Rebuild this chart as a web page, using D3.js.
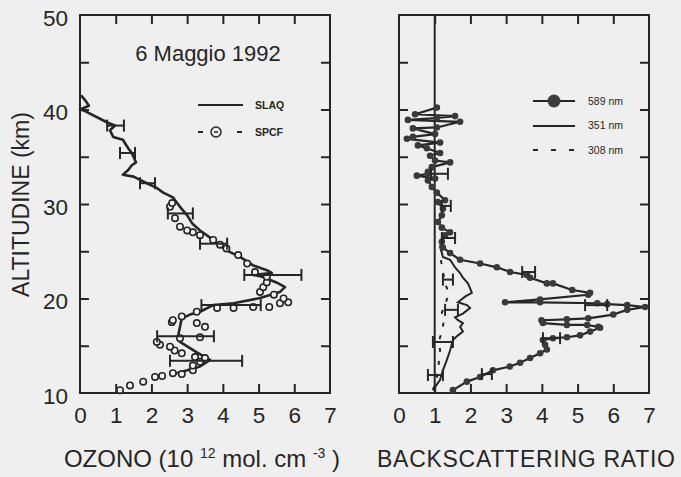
<!DOCTYPE html>
<html><head><meta charset="utf-8">
<script src="https://cdn.jsdelivr.net/npm/d3@7"></script>
<style>
html,body{margin:0;padding:0;background:#efefef;}
svg{display:block;font-family:"Liberation Sans",Arial,sans-serif;}
</style></head>
<body>
<svg id="c" width="681" height="477"></svg>
<script>
// ---------- data ----------
const altTicks = [10, 20, 30, 40, 50];
const xTicks = [0, 1, 2, 3, 4, 5, 6, 7];
// SLAQ ozone profile [altitude km, ozone 1e12 mol/cm3]
const slaq = [[41.5,0.03],[41.0,0.14],[40.4,0.25],[40.0,0.0],[39.9,0.1],[38.6,0.78],[38.3,0.98],[37.8,0.84],[37.1,0.93],[36.8,1.2],[35.9,1.35],[35.4,1.45],[34.4,1.57],[34.1,1.45],[33.6,1.35],[33.1,1.2],[32.9,1.5],[32.2,1.87],[31.7,2.15],[31.2,2.33],[30.7,2.6],[29.7,2.8],[28.8,3.0],[27.9,3.15],[27.2,3.36],[26.2,3.73],[25.1,4.1],[24.4,4.48],[23.5,4.85],[23.0,5.23],[22.7,5.37],[22.5,4.85],[22.3,5.1],[21.7,5.5],[21.2,5.74],[20.7,5.6],[20.05,5.04],[19.5,4.3],[19.3,3.73],[18.6,3.36],[18.3,3.08],[17.9,2.85],[17.0,2.8],[15.9,2.74],[15.4,2.8],[14.3,3.27],[13.5,3.64],[12.8,3.36],[12.4,3.0],[12.1,2.7]];
// SPCF ozone-sonde points
const spcf = [[10.3,1.12],[10.8,1.4],[11.2,1.77],[11.7,2.1],[11.8,2.3],[12.1,2.6],[12.0,2.85],[12.4,3.16],[12.9,3.16],[13.3,3.36],[13.7,3.5],[13.8,3.22],[14.2,2.85],[14.5,2.65],[14.9,2.52],[15.1,2.24],[15.4,2.15],[15.8,2.8],[15.9,3.36],[17.0,3.5],[17.4,3.27],[17.5,2.57],[17.7,2.6],[18.1,2.85],[18.6,3.27],[19.0,3.84],[19.0,4.3],[19.1,4.85],[19.1,5.3],[19.5,5.6],[19.6,5.83],[20.0,5.7],[20.4,5.43],[20.7,5.04],[21.2,5.13],[21.7,5.23],[22.3,5.23],[22.8,4.9],[23.7,4.68],[24.6,4.43],[25.3,4.1],[25.7,3.92],[26.2,3.73],[26.7,3.36],[27.0,3.16],[27.2,3.0],[27.6,2.8],[28.5,2.66],[29.7,2.52],[30.1,2.58]];
// ozone error bars [altitude, low, high]
const ozoneErr = [[38.3,0.76,1.23],[35.4,1.12,1.54],[32.2,1.68,2.1],[29.0,2.46,3.16],[25.8,3.36,4.12],[22.5,4.6,6.2],[19.3,3.4,5.06],[16.0,2.16,3.75],[13.4,2.52,4.54]];
// backscattering ratio profiles [altitude, ratio]
const bsr589 = [[10.3,1.51],[11.2,1.9],[11.7,2.27],[12.4,2.63],[12.8,3.1],[13.2,3.39],[13.7,3.67],[14.2,3.95],[14.6,4.14],[15.1,4.09],[15.6,4.03],[15.8,4.31],[15.9,4.7],[16.1,5.07],[16.5,5.35],[16.9,5.63],[17.0,5.58],[17.2,5.27],[17.2,4.7],[17.4,4.03],[17.7,3.99],[17.8,4.7],[17.9,5.3],[18.3,6.0],[18.8,6.39],[19.1,6.89],[19.3,6.39],[19.4,5.83],[19.5,5.55],[19.6,3.95],[19.6,2.97],[19.9,3.95],[20.4,5.3],[20.6,5.35],[20.9,4.85],[21.6,4.31],[21.6,4.14],[22.2,3.67],[22.5,3.58],[22.8,3.11],[23.3,2.74],[23.7,2.27],[24.1,1.71],[24.8,1.43],[25.4,1.23],[26.0,1.2],[26.7,1.29],[27.0,1.43],[27.5,1.2],[28.1,1.09],[28.8,1.2],[29.5,1.23],[30.2,1.09],[30.4,1.29],[31.2,1.06],[31.8,0.92],[32.5,0.81],[32.7,1.01],[33.0,0.5],[33.2,0.81],[33.4,0.81],[33.9,0.92],[34.4,1.43],[34.6,1.01],[35.1,0.87],[35.4,1.15],[35.9,0.78],[36.2,0.53],[36.5,1.15],[36.9,0.22],[37.1,0.39],[37.4,1.01],[38.0,0.39],[38.1,1.06],[38.7,1.71],[38.9,0.25],[39.1,1.06],[39.3,1.57],[39.5,0.45],[40.2,1.06]];
const bsr351 = [[10.3,0.95],[11.4,1.15],[12.4,1.23],[13.5,1.34],[14.5,1.43],[15.6,1.51],[16.1,1.65],[16.5,1.79],[17.0,1.71],[17.4,1.79],[17.7,1.65],[18.0,1.57],[18.4,1.79],[19.0,1.99],[19.3,1.9],[19.6,1.65],[20.2,1.85],[20.6,2.04],[21.1,1.99],[21.6,1.93],[22.2,1.79],[22.7,1.71],[23.3,1.57],[24.1,1.43],[24.4,1.23],[24.8,1.2],[25.5,1.15],[26.0,1.2]];
const bsr308 = [[10.3,0.95],[11.5,1.05],[12.5,1.1],[13.5,1.12],[14.5,1.15],[15.5,1.12],[16.5,1.2],[17.5,1.25],[18.5,1.2],[19.5,1.3],[20.5,1.4],[21.5,1.3],[22.5,1.25],[23.5,1.2],[24.5,1.15],[25.0,1.2]];
const bsrErr = [[22.0,1.23,1.51],[18.8,1.29,1.65],[15.4,0.95,1.51],[11.9,0.81,1.23],[22.8,3.45,3.81],[19.3,5.21,5.83],[15.8,4.03,4.51],[12.0,2.32,2.6],[33.2,0.9,1.37],[29.8,1.2,1.45],[26.4,1.2,1.57]];
const legendLeft = ["SLAQ", "SPCF"];
const legendRight = ["589 nm", "351 nm", "308 nm"];

// ---------- drawing ----------
const svg = d3.select("#c");
const ink = "#262626";
const y = d3.scaleLinear().domain([10, 50]).range([393, 15]);
const xL = d3.scaleLinear().domain([0, 7]).range([80, 330]);
const xR = d3.scaleLinear().domain([0, 7]).range([399, 649]);
const minorAlt = [15, 20, 25, 30, 35, 40, 45];
const innerX = [1, 2, 3, 4, 5, 6];

function frame(x) {
  const g = svg.append("g");
  const [x0, x1] = x.range();
  const tl = 9;
  g.append("rect").attr("x", x0).attr("y", y(50)).attr("width", x1 - x0).attr("height", y(10) - y(50))
    .attr("fill", "none").attr("stroke", ink).attr("stroke-width", 2);
  const axL = d3.axisRight(y).tickValues(minorAlt).tickSize(tl).tickFormat("");
  const axR = d3.axisLeft(y).tickValues(minorAlt).tickSize(tl).tickFormat("");
  const axB = d3.axisTop(x).tickValues(innerX).tickSize(tl).tickFormat("");
  const axT = d3.axisBottom(x).tickValues(innerX).tickSize(tl).tickFormat("");
  [[axL, `translate(${x0},0)`], [axR, `translate(${x1},0)`], [axB, `translate(0,${y(10)})`], [axT, `translate(0,${y(50)})`]]
    .forEach(([a, t]) => {
      const s = g.append("g").attr("transform", t).call(a);
      s.select(".domain").remove();
      s.selectAll("line").attr("stroke", ink).attr("stroke-width", 2);
    });
  const lab = d3.axisBottom(x).tickValues(xTicks).tickSize(0).tickPadding(14).tickFormat(d3.format("d"));
  const s = g.append("g").attr("transform", `translate(0,${y(10)})`).call(lab);
  s.select(".domain").remove();
  s.selectAll("text").attr("font-size", 22.5).attr("fill", ink).attr("font-family", "Liberation Sans, Arial, sans-serif");
  return g;
}

frame(xL);
frame(xR);

const yl = svg.append("g").attr("transform", `translate(${xL(0)},0)`)
  .call(d3.axisLeft(y).tickValues(altTicks).tickSize(0).tickPadding(12));
yl.select(".domain").remove();
yl.selectAll("text").attr("font-size", 22.5).attr("fill", ink).attr("dy", "0.45em").attr("font-family", "Liberation Sans, Arial, sans-serif");

svg.append("text").attr("transform", `translate(29,${(107 + 302) / 2}) rotate(-90)`)
  .attr("text-anchor", "middle").attr("font-size", 23).attr("fill", ink).text("ALTITUDINE (km)");
const oz = svg.append("text").attr("x", 202).attr("y", 467).attr("text-anchor", "middle").attr("font-size", 24).attr("fill", ink);
oz.append("tspan").text("OZONO (10 ");
oz.append("tspan").attr("font-size", 14).attr("dy", -9).text("12");
oz.append("tspan").attr("dy", 9).text(" mol. cm ");
oz.append("tspan").attr("font-size", 14).attr("dy", -9).text("-3");
oz.append("tspan").attr("dy", 9).text(" )");
svg.append("text").attr("x", 526).attr("y", 467).attr("text-anchor", "middle").attr("font-size", 23)
  .attr("fill", ink).attr("textLength", 298).text("BACKSCATTERING RATIO");
svg.append("text").attr("x", 208).attr("y", 61).attr("text-anchor", "middle").attr("font-size", 22)
  .attr("fill", ink).text("6 Maggio 1992");

function errBars(data, x, cap) {
  const g = svg.append("g").attr("stroke", ink).attr("stroke-width", 2).attr("fill", "none");
  data.forEach(([a, lo, hi]) => {
    g.append("line").attr("x1", x(lo)).attr("x2", x(hi)).attr("y1", y(a)).attr("y2", y(a));
    [lo, hi].forEach(v => g.append("line").attr("x1", x(v)).attr("x2", x(v)).attr("y1", y(a) - cap).attr("y2", y(a) + cap));
  });
}

// ----- left panel -----
const lineL = d3.line().x(d => xL(d[1])).y(d => y(d[0]));
svg.append("path").datum(slaq).attr("d", lineL).attr("fill", "none").attr("stroke", ink).attr("stroke-width", 2.6).attr("stroke-linejoin", "round");
svg.append("g").selectAll("circle").data(spcf).join("circle")
  .attr("cx", d => xL(d[1])).attr("cy", d => y(d[0])).attr("r", 3.2)
  .attr("fill", "#f4f4f4").attr("stroke", ink).attr("stroke-width", 1.6);
errBars(ozoneErr, xL, 6);

const lg = svg.append("g").attr("fill", ink);
lg.append("line").attr("x1", 198).attr("x2", 243).attr("y1", 105).attr("y2", 105).attr("stroke", ink).attr("stroke-width", 2);
lg.append("line").attr("x1", 198).attr("x2", 203).attr("y1", 132).attr("y2", 132).attr("stroke", ink).attr("stroke-width", 2);
lg.append("line").attr("x1", 237).attr("x2", 242).attr("y1", 132).attr("y2", 132).attr("stroke", ink).attr("stroke-width", 2);
lg.append("circle").attr("cx", 216).attr("cy", 132).attr("r", 5).attr("fill", "none").attr("stroke", ink).attr("stroke-width", 1.5);
lg.append("line").attr("x1", 214).attr("x2", 218).attr("y1", 132).attr("y2", 132).attr("stroke", ink).attr("stroke-width", 1.5);
lg.selectAll("text.l").data(legendLeft).join("text").attr("class", "l")
  .attr("x", 255).attr("y", (d, i) => 105 + i * 27).attr("dy", "0.36em")
  .attr("font-size", 10.5).attr("font-weight", "bold").text(d => d);

// ----- right panel -----
svg.append("line").attr("x1", xR(1)).attr("x2", xR(1)).attr("y1", y(50)).attr("y2", y(10)).attr("stroke", ink).attr("stroke-width", 2);
const lineR = d3.line().x(d => xR(d[1])).y(d => y(d[0]));
svg.append("path").datum(bsr308).attr("d", lineR).attr("fill", "none").attr("stroke", ink).attr("stroke-width", 2).attr("stroke-dasharray", "4,9");
svg.append("path").datum(bsr351).attr("d", lineR).attr("fill", "none").attr("stroke", ink).attr("stroke-width", 2);
svg.append("path").datum(bsr589).attr("d", lineR).attr("fill", "none").attr("stroke", ink).attr("stroke-width", 2.2).attr("stroke-linejoin", "round");
svg.append("g").selectAll("circle").data(bsr589).join("circle")
  .attr("cx", d => xR(d[1])).attr("cy", d => y(d[0])).attr("r", 3.3).attr("fill", "#3a3a3a");
errBars(bsrErr, xR, 6);

const rg = svg.append("g").attr("fill", ink);
rg.append("line").attr("x1", 533).attr("x2", 575).attr("y1", 101).attr("y2", 101).attr("stroke", ink).attr("stroke-width", 2);
rg.append("circle").attr("cx", 554).attr("cy", 101).attr("r", 6.5).attr("fill", "#3d3d3d");
rg.append("line").attr("x1", 533).attr("x2", 575).attr("y1", 126).attr("y2", 126).attr("stroke", ink).attr("stroke-width", 2);
rg.append("line").attr("x1", 533).attr("x2", 575).attr("y1", 150).attr("y2", 150).attr("stroke", ink).attr("stroke-width", 2).attr("stroke-dasharray", "5,13");
rg.selectAll("text.r").data(legendRight).join("text").attr("class", "r")
  .attr("x", 588).attr("y", (d, i) => 101 + i * 24.5).attr("dy", "0.36em")
  .attr("font-size", 10.5).text(d => d);
</script>
</body></html>
